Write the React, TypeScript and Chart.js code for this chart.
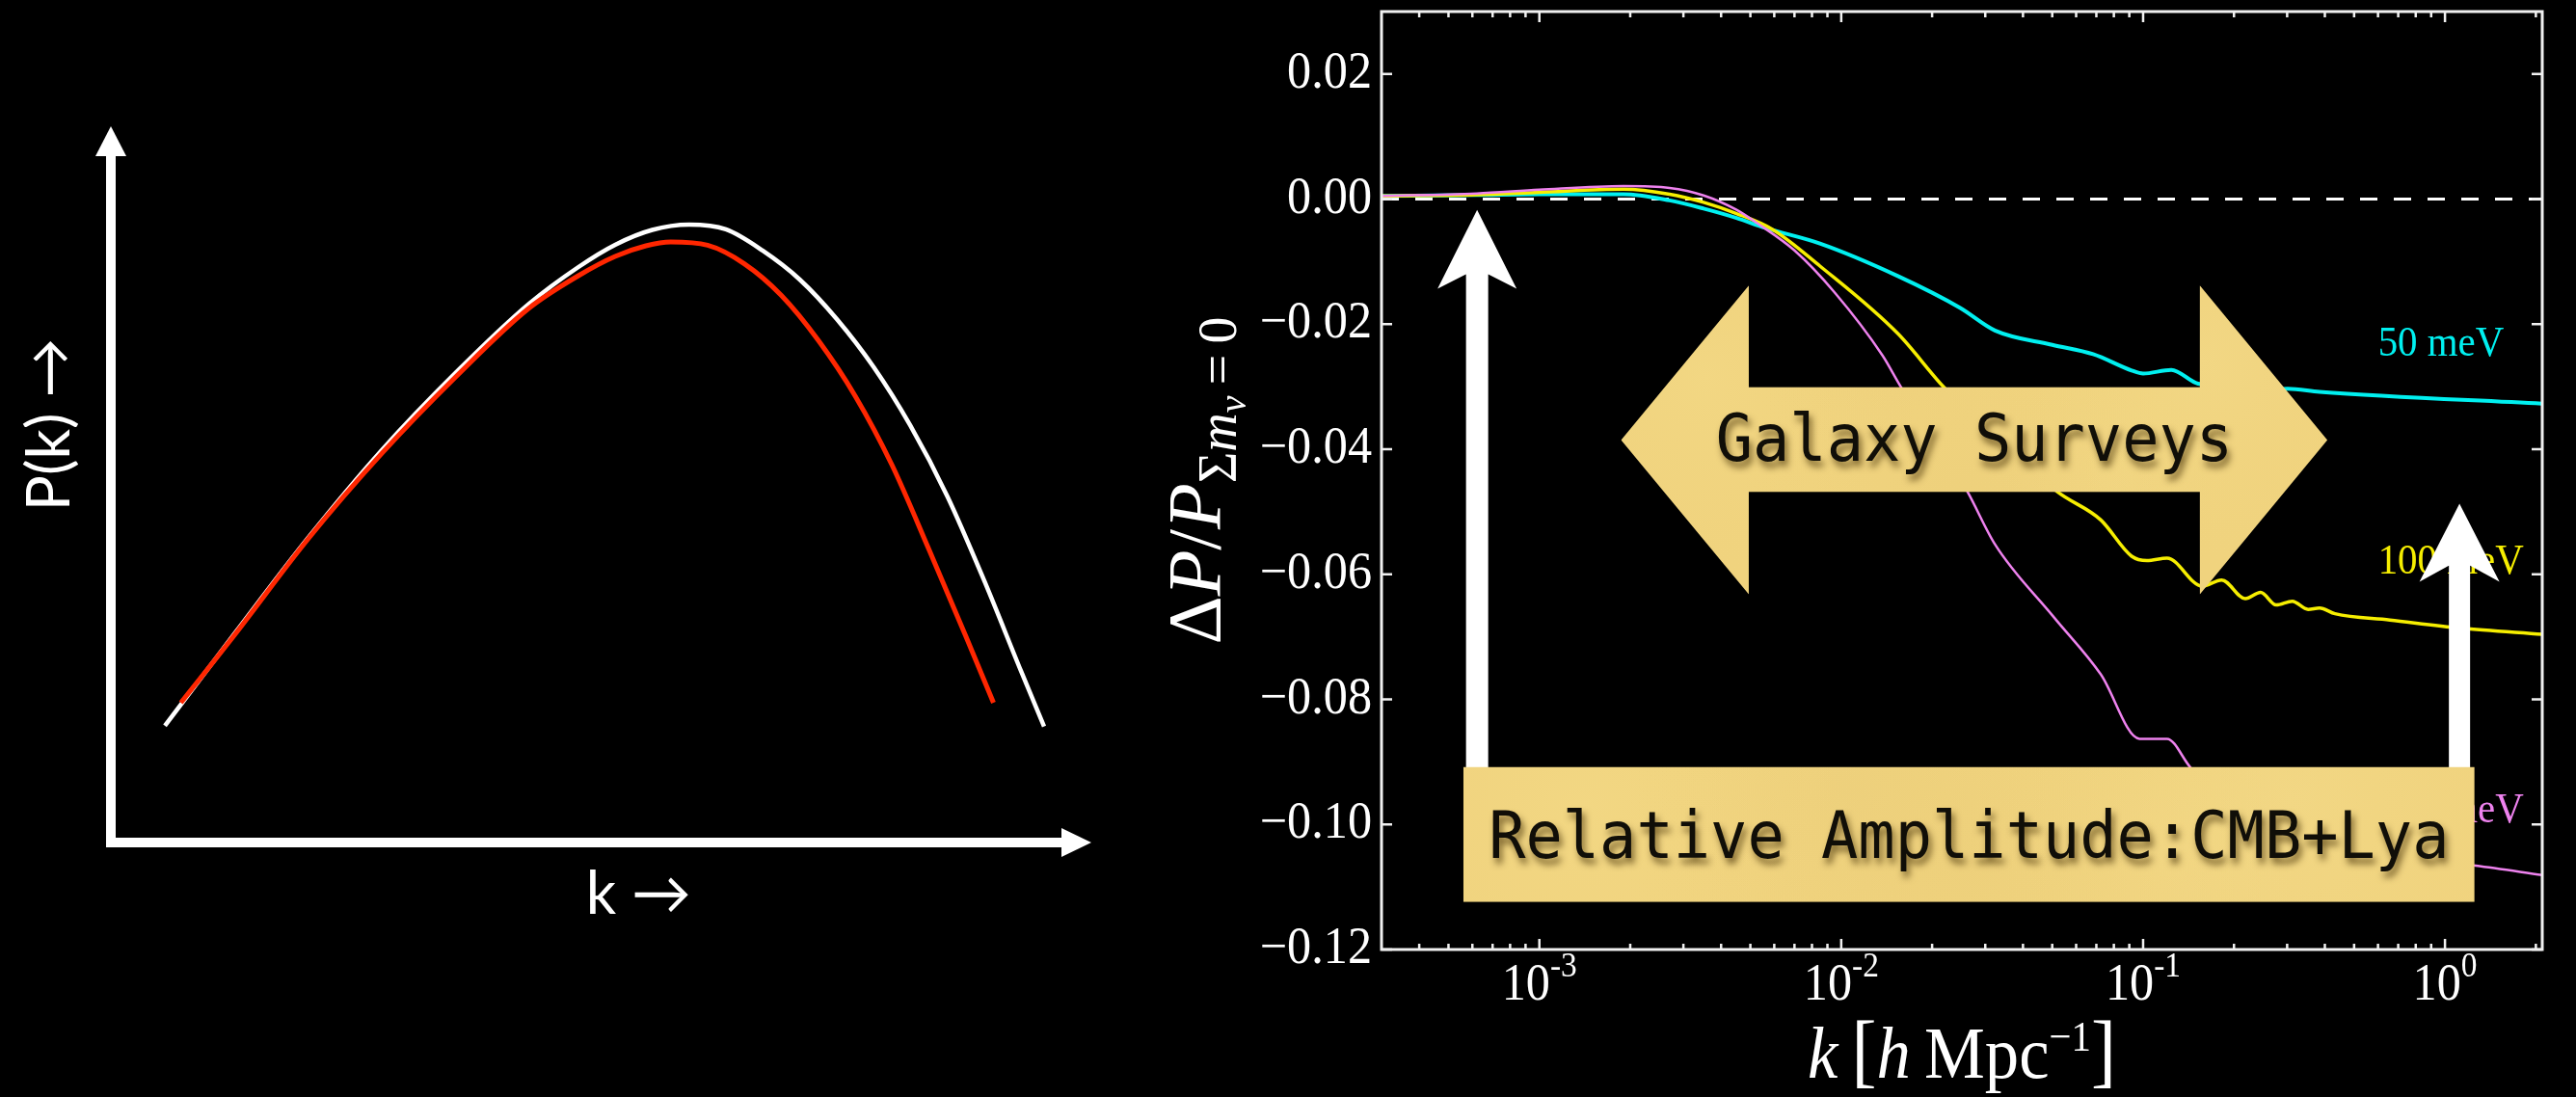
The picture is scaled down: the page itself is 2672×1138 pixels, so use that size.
import React, { useEffect, useRef } from 'react';
import { Chart, registerables } from 'chart.js';

Chart.register(...registerables);

// ---------- Schematic panel: P(k) in arbitrary units (0–100 on both axes) ----------
const masslessK = [5.51, 12.59, 20.12, 27.63, 35.17, 42.67, 47.69, 51.43, 55.21, 58.98, 62.73, 66.47, 70.26, 74.04, 77.78, 81.51, 85.32, 89.09, 92.82, 95.18];
const masslessP = [16.29, 29.11, 42.53, 54.78, 65.59, 75.24, 80.35, 83.45, 85.53, 86.27, 85.6, 82.64, 78.6, 73.08, 66.41, 58.28, 48.32, 36.51, 23.96, 16.2];
const massiveK = [7.14, 12.59, 20.12, 27.63, 35.17, 42.67, 47.69, 51.43, 54.57, 57.1, 60.86, 64.6, 68.39, 72.15, 75.91, 79.65, 83.44, 87.2, 90.02];
const massiveP = [19.52, 28.94, 42.4, 54.32, 65.01, 74.63, 79.14, 81.83, 83.31, 83.85, 83.39, 80.81, 76.38, 70.12, 62.36, 52.76, 40.92, 28.8, 19.52];

// ---------- Ratio panel: ΔP / P(Σmν = 0) versus k [h/Mpc] ----------
const kCyan = [3.0e-4, 6.2e-4, 1.0e-3, 1.9e-3, 2.7e-3, 3.5e-3, 4.5e-3, 5.6e-3, 8.5e-3, 0.0154, 0.0248, 0.0323, 0.05, 0.0683, 0.0916, 0.1, 0.124, 0.152, 0.2, 0.25, 0.28, 0.301, 0.384, 2.1];
const dCyan = [0.0005, 0.00066, 0.0008, 0.0008, -0.0002, -0.0015, -0.003, -0.0046, -0.0071, -0.0123, -0.0174, -0.021, -0.0233, -0.0248, -0.0274, -0.0279, -0.0273, -0.0295, -0.0299, -0.03, -0.0304, -0.0303, -0.0308, -0.0327];

const kYellow = [3.0e-4, 6.2e-4, 1.0e-3, 1.9e-3, 2.7e-3, 3.5e-3, 4.5e-3, 5.9e-3, 8.5e-3, 0.0154, 0.022, 0.0333, 0.052, 0.0724, 0.0916, 0.103, 0.12, 0.157, 0.182, 0.218, 0.245, 0.276, 0.312, 0.352, 0.384, 0.432, 0.657, 1.125, 2.1];
const dYellow = [0.0005, 0.0007, 0.0011, 0.0016, 0.0008, -0.0005, -0.0023, -0.0048, -0.0107, -0.0215, -0.0302, -0.0383, -0.0468, -0.0513, -0.0571, -0.0578, -0.0574, -0.0619, -0.0609, -0.0639, -0.0629, -0.0649, -0.0643, -0.0656, -0.0654, -0.0663, -0.0673, -0.0686, -0.0696];

const kViolet = [3.0e-4, 6.2e-4, 1.0e-3, 1.9e-3, 2.7e-3, 3.5e-3, 4.5e-3, 5.25e-3, 7.0e-3, 9.5e-3, 0.0137, 0.0158, 0.02, 0.0262, 0.0323, 0.0505, 0.0724, 0.0973, 0.12, 0.1436, 0.2, 0.3, 0.5, 0.8, 1.265, 2.1];
const dViolet = [0.0005, 0.0009, 0.0015, 0.0021, 0.0018, 0.0006, -0.0017, -0.0038, -0.0082, -0.0149, -0.025, -0.0301, -0.0375, -0.0468, -0.0552, -0.0668, -0.076, -0.0863, -0.0863, -0.0909, -0.0975, -0.101, -0.104, -0.1055, -0.1066, -0.1081];

const kZero = [3.0e-4, 2.1];
const dZero = [0, 0];

const massLabels = ['50 meV', '100 meV', '150 meV'];
const yTickValues = [0.02, 0.0, -0.02, -0.04, -0.06, -0.08, -0.1, -0.12];
const xTickExponents = [-3, -2, -1, 0];

const CYAN = '#00f0f0';
const YELLOW = '#f6ee00';
const VIOLET = '#ee82ee';

const SERIF = '"Liberation Serif", "Times New Roman", serif';
const MONO = '"DejaVu Sans Mono", "Liberation Mono", monospace';
const SANS = 'Lato, "DejaVu Sans", sans-serif';
const SQ = 0.93;

const pts = (ks: number[], vs: number[]) => ks.map((k, i) => ({ x: k, y: vs[i] }));

type Run = { text: string; font: string; dy?: number };

function runsWidth(ctx: CanvasRenderingContext2D, runs: Run[], sq: number) {
  let w = 0;
  for (const r of runs) {
    ctx.font = r.font;
    w += ctx.measureText(r.text).width * sq;
  }
  return w;
}

function drawRuns(ctx: CanvasRenderingContext2D, runs: Run[], x: number, y: number, sq: number) {
  let cx = x;
  for (const r of runs) {
    ctx.font = r.font;
    const w = ctx.measureText(r.text).width;
    ctx.save();
    ctx.translate(cx, y + (r.dy || 0));
    ctx.scale(sq, 1);
    ctx.textAlign = 'left';
    ctx.fillText(r.text, 0, 0);
    ctx.restore();
    cx += w * sq;
  }
}

function drawSquished(ctx: CanvasRenderingContext2D, text: string, x: number, y: number, align: CanvasTextAlign = 'left', sq = SQ) {
  ctx.save();
  ctx.translate(x, y);
  ctx.scale(sq, 1);
  ctx.textAlign = align;
  ctx.fillText(text, 0, 0);
  ctx.restore();
}

function upArrow(ctx: CanvasRenderingContext2D, cx: number, tip: number, barb: number, notch: number, bottom: number, shaftHalf: number, headHalf: number) {
  ctx.beginPath();
  ctx.moveTo(cx, tip);
  ctx.lineTo(cx + headHalf, barb);
  ctx.lineTo(cx + shaftHalf, notch);
  ctx.lineTo(cx + shaftHalf, bottom);
  ctx.lineTo(cx - shaftHalf, bottom);
  ctx.lineTo(cx - shaftHalf, notch);
  ctx.lineTo(cx - headHalf, barb);
  ctx.closePath();
  ctx.fill();
}

// parchment-like gold fill clipped to a path
function paper(ctx: CanvasRenderingContext2D, path: () => void, x0: number, y0: number, x1: number, y1: number) {
  ctx.save();
  path();
  ctx.clip();
  ctx.fillStyle = '#f0d37e';
  ctx.fillRect(x0, y0, x1 - x0, y1 - y0);
  const spots: [number, number, number, string][] = [
    [0.12, 0.3, 0.3, 'rgba(246,222,140,0.35)'],
    [0.5, 0.75, 0.35, 'rgba(228,198,114,0.22)'],
    [0.82, 0.25, 0.3, 'rgba(246,224,146,0.3)'],
    [0.38, 0.15, 0.22, 'rgba(230,200,118,0.2)'],
    [0.7, 0.6, 0.2, 'rgba(244,220,140,0.25)'],
  ];
  const span = Math.max(x1 - x0, y1 - y0);
  for (const [fx, fy, fr, c] of spots) {
    const cx = x0 + fx * (x1 - x0);
    const cy = y0 + fy * (y1 - y0);
    const g = ctx.createRadialGradient(cx, cy, 0, cx, cy, fr * span);
    g.addColorStop(0, c);
    g.addColorStop(1, 'rgba(240,211,126,0)');
    ctx.fillStyle = g;
    ctx.fillRect(x0, y0, x1 - x0, y1 - y0);
  }
  ctx.restore();
}

function shadowText(ctx: CanvasRenderingContext2D, text: string, cx: number, baseline: number) {
  ctx.save();
  ctx.font = `67px ${MONO}`;
  ctx.fillStyle = '#100e08';
  ctx.shadowColor = 'rgba(60,40,0,0.65)';
  ctx.shadowBlur = 7;
  ctx.shadowOffsetX = 3;
  ctx.shadowOffsetY = 6;
  drawSquished(ctx, text, cx, baseline, 'center', 0.95);
  ctx.restore();
}

const schematicAxes = {
  id: 'schematicAxes',
  afterDatasetsDraw(chart: any) {
    const { ctx } = chart;
    const xs = chart.scales.x;
    const ys = chart.scales.y;
    const x0 = xs.getPixelForValue(0);
    const y0 = ys.getPixelForValue(0);
    const top = ys.getPixelForValue(100);
    const right = xs.getPixelForValue(100);
    const lw = 10;
    const head = 31;
    ctx.save();
    ctx.fillStyle = '#ffffff';
    ctx.fillRect(x0 - lw / 2, top + head - 1, lw, y0 + lw / 2 - (top + head - 1));
    ctx.beginPath();
    ctx.moveTo(x0, top);
    ctx.lineTo(x0 + 16, top + head);
    ctx.lineTo(x0 - 16, top + head);
    ctx.closePath();
    ctx.fill();
    ctx.fillRect(x0 - lw / 2, y0 - lw / 2, right - head + 1 - (x0 - lw / 2), lw);
    ctx.beginPath();
    ctx.moveTo(right, y0);
    ctx.lineTo(right - head, y0 - 15);
    ctx.lineTo(right - head, y0 + 15);
    ctx.closePath();
    ctx.fill();

    ctx.font = `62px ${SANS}`;
    ctx.textBaseline = 'alphabetic';
    const cx = (x0 + right) / 2;
    const kw = ctx.measureText('k').width;
    ctx.textAlign = 'left';
    ctx.fillText('k \u2192', cx - kw / 2, y0 + 74);

    ctx.save();
    ctx.translate(x0 - 43, (top + y0) / 2 - 62);
    ctx.rotate(-Math.PI / 2);
    ctx.textAlign = 'center';
    ctx.fillText('P(k) \u2192', 0, 0);
    ctx.restore();
    ctx.restore();
  },
};

const ratioDecor = {
  id: 'ratioDecor',
  afterDatasetsDraw(chart: any) {
    const { ctx, chartArea: a } = chart;
    const xs = chart.scales.x;
    const ys = chart.scales.y;
    const px = (k: number) => xs.getPixelForValue(k);
    const py = (v: number) => ys.getPixelForValue(v);
    ctx.save();
    ctx.textBaseline = 'alphabetic';

    // mass labels next to the curves
    const labelColors = [CYAN, YELLOW, VIOLET];
    const labelLevels = [-0.025, -0.0598, -0.0996];
    ctx.font = `44px ${SERIF}`;
    massLabels.forEach((t, i) => {
      ctx.fillStyle = labelColors[i];
      drawSquished(ctx, t, px(0.6), py(labelLevels[i]));
    });

    // frame and inward ticks
    ctx.strokeStyle = '#f0f0f0';
    ctx.lineWidth = 3;
    ctx.strokeRect(a.left, a.top, a.right - a.left, a.bottom - a.top);
    ctx.lineWidth = 2.5;
    ctx.beginPath();
    yTickValues.forEach((v) => {
      const p = py(v);
      ctx.moveTo(a.left, p);
      ctx.lineTo(a.left + 11, p);
      ctx.moveTo(a.right, p);
      ctx.lineTo(a.right - 11, p);
    });
    for (let e = -4; e <= 0; e++) {
      for (let m = 1; m <= 9; m++) {
        const k = m * Math.pow(10, e);
        const p = px(k);
        if (p < a.left + 3 || p > a.right - 3) continue;
        const len = m === 1 ? 11 : 6;
        ctx.moveTo(p, a.bottom);
        ctx.lineTo(p, a.bottom - len);
        ctx.moveTo(p, a.top);
        ctx.lineTo(p, a.top + len);
      }
    }
    ctx.stroke();

    // tick labels
    ctx.fillStyle = '#ffffff';
    ctx.font = `54px ${SERIF}`;
    yTickValues.forEach((v) => {
      const txt = v < 0 ? '\u2212' + Math.abs(v).toFixed(2) : Math.abs(v).toFixed(2);
      drawSquished(ctx, txt, a.left - 10, py(v) + 14, 'right');
    });
    xTickExponents.forEach((e) => {
      const runs: Run[] = [
        { text: '10', font: `54px ${SERIF}` },
        { text: String(e), font: `36px ${SERIF}`, dy: -24 },
      ];
      const w = runsWidth(ctx, runs, SQ);
      drawRuns(ctx, runs, px(Math.pow(10, e)) - w / 2, a.bottom + 52, SQ);
    });

    // x-axis title: k [h Mpc^-1]
    const xTitle: Run[] = [
      { text: 'k', font: `italic 76px ${SERIF}` },
      { text: '\u2009', font: `76px ${SERIF}` },
      { text: '[', font: `84px ${SERIF}` },
      { text: 'h', font: `italic 76px ${SERIF}` },
      { text: '\u2009Mpc', font: `76px ${SERIF}` },
      { text: '\u22121', font: `44px ${SERIF}`, dy: -28 },
      { text: ']', font: `84px ${SERIF}` },
    ];
    const xw = runsWidth(ctx, xTitle, SQ);
    drawRuns(ctx, xTitle, (a.left + a.right) / 2 - xw / 2, a.bottom + 133, SQ);

    // y-axis title: ΔP / P_{Σ m_ν = 0}
    const yTitle: Run[] = [
      { text: '\u0394', font: `78px ${SERIF}` },
      { text: 'P', font: `italic 78px ${SERIF}` },
      { text: '/', font: `78px ${SERIF}` },
      { text: 'P', font: `italic 78px ${SERIF}` },
      { text: '\u03A3', font: `56px ${SERIF}`, dy: 17 },
      { text: 'm', font: `italic 56px ${SERIF}`, dy: 17 },
      { text: '\u03BD', font: `italic 40px ${SERIF}`, dy: 27 },
      { text: '\u2009=\u20090', font: `56px ${SERIF}`, dy: 17 },
    ];
    const yw = runsWidth(ctx, yTitle, 1);
    ctx.save();
    ctx.translate(a.left - 168, (a.top + a.bottom) / 2);
    ctx.rotate(-Math.PI / 2);
    drawRuns(ctx, yTitle, -yw / 2, 0, 1);
    ctx.restore();

    // white experiment arrows
    ctx.fillStyle = '#ffffff';
    upArrow(ctx, px(6.22e-4), py(-0.0017), py(-0.01434), py(-0.012), py(-0.1), 11.5, 41);
    upArrow(ctx, px(1.117), py(-0.0487), py(-0.0612), py(-0.0586), py(-0.1), 11, 41.5);

    // "Galaxy Surveys" double arrow
    const tL = px(1.866e-3), iL = px(4.94e-3), iR = px(0.1542), tR = px(0.4076);
    const hT = py(-0.01383), hB = py(-0.0632), sT = py(-0.0301), sB = py(-0.0468);
    const mid = (hT + hB) / 2;
    paper(ctx, () => {
      ctx.beginPath();
      ctx.moveTo(tL, mid);
      ctx.lineTo(iL, hT);
      ctx.lineTo(iL, sT);
      ctx.lineTo(iR, sT);
      ctx.lineTo(iR, hT);
      ctx.lineTo(tR, mid);
      ctx.lineTo(iR, hB);
      ctx.lineTo(iR, sB);
      ctx.lineTo(iL, sB);
      ctx.lineTo(iL, hB);
      ctx.closePath();
    }, tL, hT, tR, hB);
    shadowText(ctx, 'Galaxy Surveys', (iL + iR) / 2, (sT + sB) / 2 + 22);

    // "Relative Amplitude" box
    const bL = px(5.6e-4), bR = px(1.253), bT = py(-0.0908), bB = py(-0.1124);
    paper(ctx, () => {
      ctx.beginPath();
      ctx.rect(bL, bT, bR - bL, bB - bT);
    }, bL, bT, bR, bB);
    shadowText(ctx, 'Relative Amplitude:CMB+Lya', (bL + bR) / 2, (bT + bB) / 2 + 24);

    ctx.restore();
  },
};

export default function App() {
  const leftRef = useRef<HTMLCanvasElement>(null);
  const rightRef = useRef<HTMLCanvasElement>(null);

  useEffect(() => {
    document.body.style.margin = '0';
    document.body.style.background = '#000';

    const schematic = new Chart(leftRef.current as HTMLCanvasElement, {
      type: 'line',
      data: {
        datasets: [
          {
            data: pts(massiveK, massiveP),
            borderColor: '#ff2600',
            borderWidth: 5,
            pointRadius: 0,
            cubicInterpolationMode: 'monotone',
            order: 0,
          },
          {
            data: pts(masslessK, masslessP),
            borderColor: '#ffffff',
            borderWidth: 4.5,
            pointRadius: 0,
            cubicInterpolationMode: 'monotone',
            order: 1,
          },
        ],
      },
      options: {
        responsive: false,
        maintainAspectRatio: false,
        animation: false,
        events: [],
        layout: { padding: { left: 115, right: 118, top: 131, bottom: 264 } },
        plugins: { legend: { display: false }, tooltip: { enabled: false } },
        scales: {
          x: { type: 'linear', min: 0, max: 100, display: false },
          y: { type: 'linear', min: 0, max: 100, display: false },
        },
      },
      plugins: [schematicAxes],
    } as any);

    const ratio = new Chart(rightRef.current as HTMLCanvasElement, {
      type: 'line',
      data: {
        datasets: [
          {
            data: pts(kZero, dZero),
            borderColor: '#ffffff',
            borderWidth: 3,
            borderDash: [18, 17],
            pointRadius: 0,
            order: 4,
          },
          {
            data: pts(kCyan, dCyan),
            borderColor: CYAN,
            borderWidth: 4,
            pointRadius: 0,
            cubicInterpolationMode: 'monotone',
            order: 3,
          },
          {
            data: pts(kYellow, dYellow),
            borderColor: YELLOW,
            borderWidth: 3.5,
            pointRadius: 0,
            cubicInterpolationMode: 'monotone',
            order: 2,
          },
          {
            data: pts(kViolet, dViolet),
            borderColor: VIOLET,
            borderWidth: 2.5,
            pointRadius: 0,
            cubicInterpolationMode: 'monotone',
            order: 1,
          },
        ],
      },
      options: {
        responsive: false,
        maintainAspectRatio: false,
        animation: false,
        events: [],
        layout: { padding: { left: 253, right: 35, top: 12, bottom: 153 } },
        plugins: { legend: { display: false }, tooltip: { enabled: false } },
        scales: {
          x: { type: 'logarithmic', min: 3.0e-4, max: 2.1, display: false },
          y: { type: 'linear', min: -0.12, max: 0.03, display: false },
        },
      },
      plugins: [ratioDecor],
    } as any);

    return () => {
      schematic.destroy();
      ratio.destroy();
    };
  }, []);

  return (
    <div style={{ position: 'absolute', left: 0, top: 0, width: 2672, height: 1138, background: '#000', overflow: 'hidden' }}>
      <canvas ref={leftRef} width={1250} height={1138} style={{ position: 'absolute', left: 0, top: 0, width: 1250, height: 1138 }} />
      <canvas ref={rightRef} width={1492} height={1138} style={{ position: 'absolute', left: 1180, top: 0, width: 1492, height: 1138 }} />
    </div>
  );
}
